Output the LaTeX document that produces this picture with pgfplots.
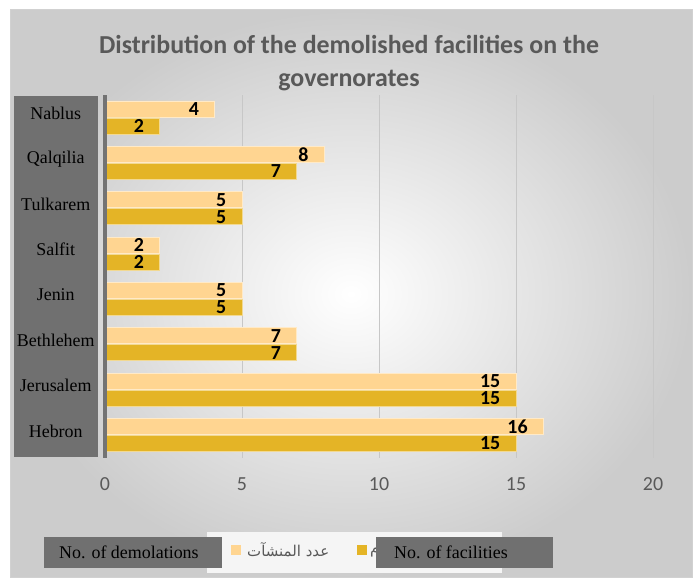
\documentclass[border=0pt]{standalone}
\usepackage{pgfplots}
\pgfplotsset{compat=1.18}
\usepackage{fontspec}
\setmainfont{Liberation Serif}
\newfontfamily\carlito{Carlito}
\newfontfamily\arabicfont[Script=Arabic]{DejaVu Sans}
\TeXXeTstate=1
\definecolor{lightbar}{HTML}{FFD591}
\definecolor{darkbar}{HTML}{E4B426}
\definecolor{boxgray}{HTML}{707070}
\definecolor{txtgray}{HTML}{595959}
\begin{document}
\begin{tikzpicture}[x=1bp,y=1bp]
\fill[white] (0,0) rectangle (698,583);
\shade[inner color=white, outer color=black!20] (10,5) rectangle (692,573);
\draw[black!18, line width=1bp] (10,5) rectangle (692,573);
\node[font=\carlito\bfseries\fontsize{26}{33}\selectfont, text=txtgray, align=center] at (349,519.5) {Distribution of the demolished facilities on the\\governorates};
\fill[boxgray] (14,126) rectangle (98,487);
\begin{axis}[
  at={(105bp,125.3bp)}, anchor=south west,
  scale only axis, width=548bp, height=362.9bp,
  xmin=0, xmax=20, ymin=-0.5, ymax=7.5,
  xtick={0,5,10,15,20},
  ytick={0,...,7},
  yticklabels={Hebron,Jerusalem,Bethlehem,Jenin,Salfit,Tulkarem,Qalqilia,Nablus},
  xbar, bar width=16bp,
  /pgf/number format/assume math mode=true,
  xmajorgrids, major grid style={draw=black!22, line width=0.8bp},
  axis lines*=left,
  axis line style={draw=none},
  tick style={draw=none},
  xticklabel style={font=\carlito\fontsize{20}{24}\selectfont, text=txtgray, yshift=-16bp},
  yticklabel style={font=\fontsize{18}{22}\selectfont, anchor=center, xshift=-45bp, yshift=4bp},
  nodes near coords,
  nodes near coords style={font=\carlito\bfseries\fontsize{20}{24}\selectfont, anchor=east, xshift=-12bp, text=black},
  clip=false,
]
\addplot[fill=lightbar, draw=lightbar!50!white, line width=0.8bp, bar shift=8.5bp]
  coordinates {(16,0) (15,1) (7,2) (5,3) (2,4) (5,5) (8,6) (4,7)};
\addplot[fill=darkbar, draw=darkbar!50!white, line width=0.8bp, bar shift=-8.5bp]
  coordinates {(15,0) (15,1) (7,2) (5,3) (2,4) (5,5) (7,6) (2,7)};
\draw[black!55, line width=3.5bp] (axis cs:0,-0.5) -- (axis cs:0,7.5);
\end{axis}
\fill[white!96!black] (207,10) rectangle (502,51);
\fill[lightbar] (231,28) rectangle (241,38);
\node[anchor=west, text=txtgray, font=\arabicfont\fontsize{15}{18}\selectfont, inner sep=0pt] at (247,33) {\beginR عدد المنشآت\endR};
\fill[darkbar] (357,28) rectangle (367,38);
\node[anchor=west, text=txtgray, font=\arabicfont\fontsize{15}{18}\selectfont, inner sep=0pt] at (370,33) {\beginR عدد عمليات الهدم\endR};
\fill[boxgray] (44,15) rectangle (222,46);
\node[anchor=west, font=\fontsize{18}{22}\selectfont, inner sep=0pt] at (59,30.5) {No. of demolations};
\fill[boxgray] (376,15) rectangle (553,46);
\node[anchor=west, font=\fontsize{18}{22}\selectfont, inner sep=0pt] at (394,30.5) {No. of facilities};
\pgfresetboundingbox
\useasboundingbox (0,0) rectangle (698,583);
\end{tikzpicture}
\end{document}
